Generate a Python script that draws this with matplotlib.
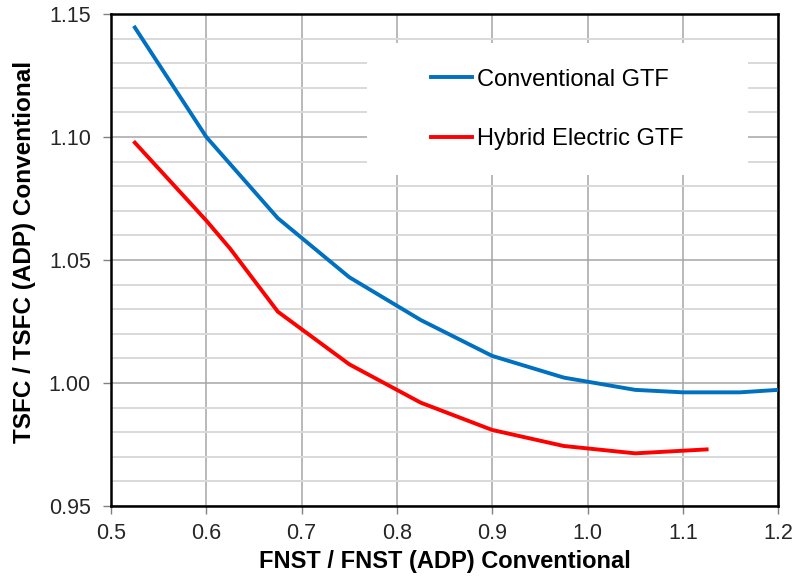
import matplotlib
matplotlib.use("Agg")
import matplotlib.pyplot as plt
from matplotlib.ticker import MultipleLocator, FormatStrFormatter
from matplotlib.patches import Rectangle

plt.rcParams['font.family'] = ['Liberation Sans', 'DejaVu Sans']

# Conventional GTF
conv_x = [0.525, 0.6, 0.675, 0.75, 0.825, 0.9, 0.975, 1.05, 1.1, 1.16, 1.2]
conv_y = [1.1445, 1.100, 1.067, 1.043, 1.0256, 1.011, 1.0022, 0.9972, 0.9962, 0.9962, 0.9972]

# Hybrid Electric GTF
hyb_x = [0.525, 0.6, 0.625, 0.675, 0.75, 0.825, 0.9, 0.975, 1.05, 1.125]
hyb_y = [1.0977, 1.066, 1.0546, 1.029, 1.0076, 0.992, 0.9809, 0.9744, 0.9714, 0.973]

labels = ['Conventional GTF', 'Hybrid Electric GTF']
xlabel = 'FNST / FNST (ADP) Conventional'
ylabel = 'TSFC / TSFC (ADP) Conventional'

fig = plt.figure(figsize=(7.96, 5.83), dpi=100)
ax = fig.add_axes([0.1395, 0.1321, 0.838, 0.8439])

ax.plot(conv_x, conv_y, color='#0070C0', lw=2.8, label=labels[0], zorder=3)
ax.plot(hyb_x, hyb_y, color='#FF0000', lw=2.8, label=labels[1], zorder=3)

ax.set_xlim(0.5, 1.2)
ax.set_ylim(0.95, 1.15)
ax.xaxis.set_major_locator(MultipleLocator(0.1))
ax.yaxis.set_major_locator(MultipleLocator(0.05))
ax.yaxis.set_minor_locator(MultipleLocator(0.01))
ax.xaxis.set_major_formatter(FormatStrFormatter('%.1f'))
ax.yaxis.set_major_formatter(FormatStrFormatter('%.2f'))

ax.set_axisbelow(True)
ax.grid(which='major', color='#a6a6a6', lw=1.1)
ax.grid(which='minor', axis='y', color='#d9d9d9', lw=1.4)

ax.tick_params(which='major', direction='out', length=5.5, width=1, color='#808080',
               labelsize=15.5, labelcolor='#262626')
ax.tick_params(axis='x', pad=7)
ax.tick_params(axis='y', pad=9)
ax.tick_params(which='minor', length=0)

for s in ax.spines.values():
    s.set_color('black')
    s.set_linewidth(1.8)

ax.set_xlabel(xlabel, fontsize=17, fontweight='bold', labelpad=4)
ax.set_ylabel(ylabel, fontsize=17.5, fontweight='bold')
ax.yaxis.set_label_coords(-0.112, 0.517)

# white box behind legend
ax.add_patch(Rectangle((0.384, 0.673), 0.571, 0.268, transform=ax.transAxes,
                       facecolor='white', edgecolor='none', zorder=1))

ax.legend(loc='center left', bbox_to_anchor=(431 / 796, 1 - 109.5 / 583),
          bbox_transform=fig.transFigure, frameon=False, fontsize=17,
          handlelength=1.75, handletextpad=0.2, labelspacing=1.6,
          borderpad=0, borderaxespad=0)

fig.savefig('out.png', dpi=100)
